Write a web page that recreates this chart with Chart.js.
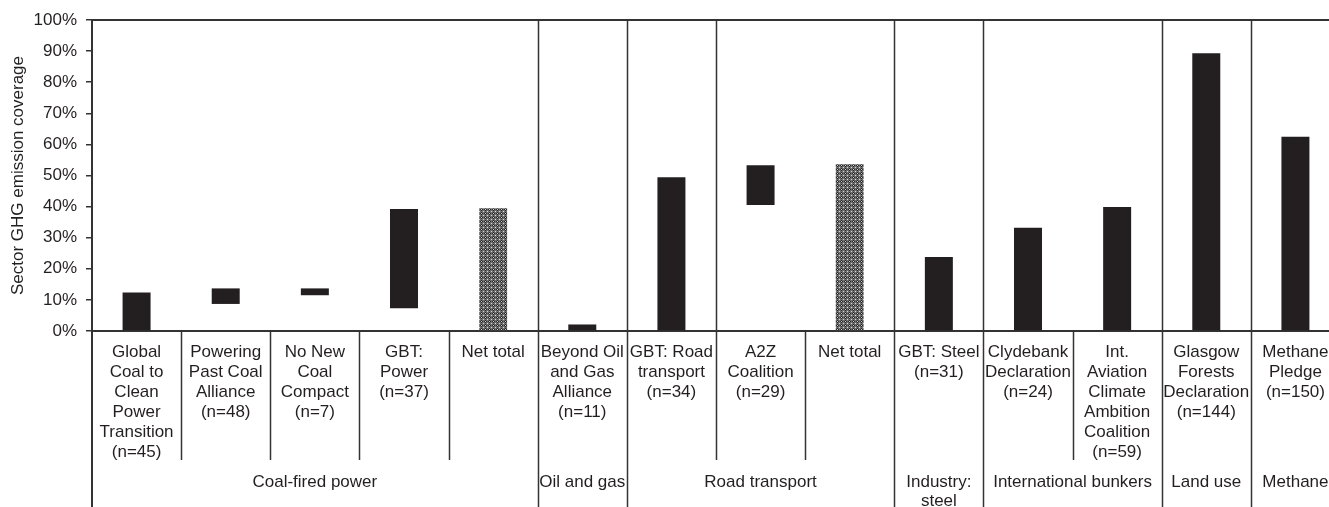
<!DOCTYPE html>
<html>
<head>
<meta charset="utf-8">
<script src="https://cdn.jsdelivr.net/npm/chart.js@4.4.1/dist/chart.umd.min.js"></script>
<style>
    html, body { margin: 0; padding: 0; background: #fff; overflow: hidden; }
    #wrap { width: 1342px; height: 507px; }
</style>
</head>
<body>
<div id="wrap"><canvas id="coverageChart" width="1342" height="507"></canvas></div>
<script>
// Category labels (one array per line set)
const categories = [
    ['Global', 'Coal to', 'Clean', 'Power', 'Transition', '(n=45)'],
    ['Powering', 'Past Coal', 'Alliance', '(n=48)'],
    ['No New', 'Coal', 'Compact', '(n=7)'],
    ['GBT:', 'Power', '(n=37)'],
    ['Net total'],
    ['Beyond Oil', 'and Gas', 'Alliance', '(n=11)'],
    ['GBT: Road', 'transport', '(n=34)'],
    ['A2Z', 'Coalition', '(n=29)'],
    ['Net total'],
    ['GBT: Steel', '(n=31)'],
    ['Clydebank', 'Declaration', '(n=24)'],
    ['Int.', 'Aviation', 'Climate', 'Ambition', 'Coalition', '(n=59)'],
    ['Glasgow', 'Forests', 'Declaration', '(n=144)'],
    ['Methane', 'Pledge', '(n=150)'],
];

// Bar bottoms and tops, in % of sector emissions
const lows  = [0, 8.7, 11.5, 7.3, 0, 0, 0, 40.5, 0, 0, 0, 0, 0, 0];
const highs = [12.4, 13.7, 13.7, 39.2, 39.5, 2.1, 49.4, 53.3, 53.6, 23.8, 33.2, 39.9, 89.3, 62.5];
const netTotal = [false, false, false, false, true, false, false, false, true, false, false, false, false, false];

// Sector groups below the category labels
const groupNames = ['Coal-fired power', 'Oil and gas', 'Road transport', ['Industry:', 'steel'], 'International bunkers', 'Land use', 'Methane'];
const groupSizes = [5, 1, 3, 1, 2, 1, 1];

// Boundaries (after category index) that also run through the plot area
const plotDividers = [4, 5, 6, 8, 9, 11, 12];

const yTicks = [0, 10, 20, 30, 40, 50, 60, 70, 80, 90, 100];

const INK = '#231f20';
const LINE = '#333333';
const FONT = 'Liberation Sans, Arial, sans-serif';

// Crosshatch fill for the net total bars (small dotted grid)
function makeHatch() {
    const c = document.createElement('canvas');
    c.width = 4;
    c.height = 4;
    const g = c.getContext('2d');
    g.fillStyle = '#6e6e6e';
    g.fillRect(0, 0, 4, 4);
    g.fillStyle = '#262626';
    g.fillRect(1, 0, 1, 1);
    g.fillRect(0, 1, 1, 1);
    g.fillRect(2, 1, 1, 1);
    g.fillRect(1, 2, 1, 1);
    g.fillStyle = '#d6d6d6';
    g.fillRect(3, 3, 1, 1);
    g.fillRect(1, 1, 1, 1);
    return g.createPattern(c, 'repeat');
}
const hatch = makeHatch();

const barData = lows.map((lo, i) => [lo, highs[i]]);
const barColors = netTotal.map(n => n ? hatch : INK);

// Draws separators, top frame and sector group labels
const separators = {
    id: 'separators',
    afterDraw(chart) {
        const ctx = chart.ctx;
        const area = chart.chartArea;
        const x = chart.scales.x;
        const n = categories.length;
        const labelBottom = 460;
        const bottom = chart.height;

        const edge = (i) => {
            if (i < 0) return area.left;
            if (i >= n - 1) return area.right;
            return (x.getPixelForValue(i) + x.getPixelForValue(i + 1)) / 2;
        };

        // which boundaries split groups
        const groupEdges = [-1];
        let acc = -1;
        groupSizes.forEach(s => { acc += s; groupEdges.push(acc); });

        ctx.save();
        ctx.strokeStyle = LINE;

        // top frame
        ctx.lineWidth = 2;
        ctx.beginPath();
        ctx.moveTo(area.left, area.top);
        ctx.lineTo(area.right, area.top);
        ctx.stroke();

        ctx.lineWidth = 1.5;
        // dividers inside the plot
        plotDividers.forEach(i => {
            const px = Math.round(edge(i)) + 0.5;
            ctx.beginPath();
            ctx.moveTo(px, area.top);
            ctx.lineTo(px, area.bottom);
            ctx.stroke();
        });

        // lines below the axis
        for (let i = -1; i < n; i++) {
            const px = i < 0 ? area.left : Math.round(edge(i)) + 0.5;
            const end = groupEdges.includes(i) ? bottom : labelBottom;
            ctx.lineWidth = i < 0 ? 2 : 1.5;
            ctx.beginPath();
            ctx.moveTo(px, area.bottom);
            ctx.lineTo(px, end);
            ctx.stroke();
        }

        // group labels
        ctx.fillStyle = INK;
        ctx.font = '17px ' + FONT;
        ctx.textAlign = 'center';
        ctx.textBaseline = 'middle';
        let start = -1;
        groupNames.forEach((name, g) => {
            const stop = start + groupSizes[g];
            const cx = (edge(start) + edge(stop)) / 2;
            const lines = Array.isArray(name) ? name : [name];
            lines.forEach((t, k) => ctx.fillText(t, cx, 482 + k * 19));
            start = stop;
        });
        ctx.restore();
    }
};

const ctx = document.getElementById('coverageChart').getContext('2d');

const existingChart = Chart.getChart('coverageChart');
if (existingChart) {
    existingChart.destroy();
}

const myChart = new Chart(ctx, {
    type: 'bar',
    data: {
        labels: categories,
        datasets: [{
            data: barData,
            backgroundColor: barColors,
            borderWidth: 0,
            barPercentage: 0.314,
            categoryPercentage: 1,
        }]
    },
    options: {
        responsive: false,
        maintainAspectRatio: false,
        animation: false,
        layout: {
            padding: { top: 20, left: 0, right: 2, bottom: 0 }
        },
        plugins: {
            legend: { display: false },
            tooltip: { enabled: false },
        },
        scales: {
            x: {
                grid: { display: false, drawTicks: false },
                border: { display: true, color: LINE, width: 2 },
                ticks: {
                    color: INK,
                    font: { family: FONT, size: 17, lineHeight: 20 / 17 },
                    padding: 11,
                    maxRotation: 0,
                    autoSkip: false,
                },
                afterFit(scale) { scale.height = 176; },
            },
            y: {
                min: 0,
                max: 100,
                afterBuildTicks(scale) { scale.ticks = yTicks.map(v => ({ value: v })); },
                grid: { drawOnChartArea: false, tickLength: 6, color: LINE, lineWidth: 1.5 },
                border: { display: true, color: LINE, width: 2 },
                ticks: {
                    color: INK,
                    font: { family: FONT, size: 17 },
                    padding: 9,
                    callback: v => v + '%',
                },
                title: {
                    display: true,
                    text: 'Sector GHG emission coverage',
                    color: INK,
                    font: { family: FONT, size: 17 },
                    padding: { top: 8, bottom: 0 },
                },
                afterFit(scale) { scale.width = 92; },
            }
        }
    },
    plugins: [separators],
});
</script>
</body>
</html>
